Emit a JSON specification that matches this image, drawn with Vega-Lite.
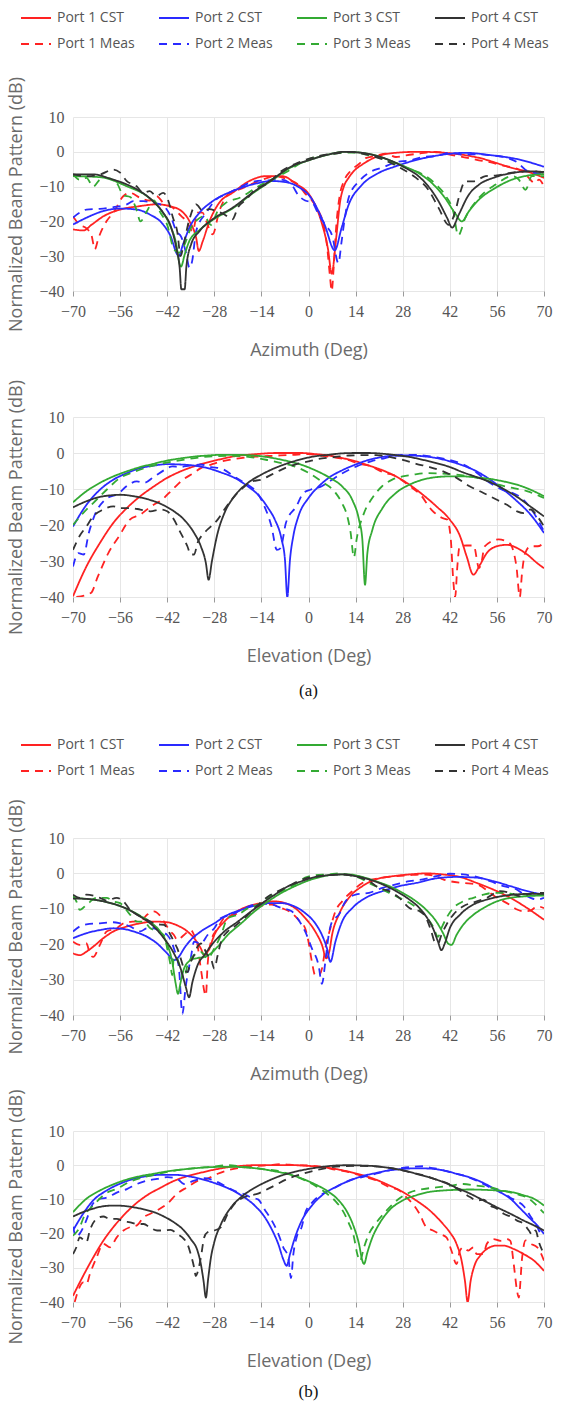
{
"$schema": "https://vega.github.io/schema/vega-lite/v6.json",
"background": "white",
"padding": {"left": 7, "top": 2, "right": 5, "bottom": 2},
"config": {
  "view": {"stroke": null},
  "axis": {"domain": false, "gridColor": "#e6e6e6", "gridWidth": 1, "labelFont": "Liberation Serif", "labelFontSize": 16, "labelColor": "#555555", "titleFont": "Open Sans", "titleFontSize": 18, "titleFontWeight": "normal", "titleColor": "#6b6b6b", "labelOverlap": false},
  "axisX": {"ticks": true, "tickColor": "#9a9a9a", "tickSize": 5, "labelPadding": 7, "titlePadding": 22, "labelFlush": false},
  "axisY": {"ticks": false, "labelPadding": 9, "titlePadding": 13},
  "legend": {"padding": 0, "labelFont": "Open Sans"}
},
"resolve": {"scale": {"color": "independent", "strokeDash": "independent", "x": "independent", "y": "independent"}},
"spacing": 30,
"vconcat": [
{
 "resolve": {"scale": {"color": "independent", "strokeDash": "independent", "x": "independent", "y": "independent"}},
 "spacing": 20,
 "vconcat": [
  {
   "width": 471, "height": 174,
   "data": {"name": "a1"},
   "mark": {"type": "line", "clip": true, "strokeWidth": 1.8, "interpolate": "monotone"},
   "encoding": {
    "x": {"field": "x", "type": "quantitative", "scale": {"domain": [-70, 70], "nice": false, "zero": false}, "axis": {"title": "Azimuth (Deg)", "labelFont": "Liberation Serif", "values": [-70,-56,-42,-28,-14,0,14,28,42,56,70]}},
    "y": {"field": "y", "type": "quantitative", "scale": {"domain": [-40, 10], "nice": false, "zero": false}, "axis": {"title": "Normalized Beam Pattern (dB)", "labelFont": "Liberation Serif", "values": [-40,-30,-20,-10,0,10]}},
    "color": {"field": "s", "type": "nominal", "scale": {"domain": ["1C","2C","3C","4C","1M","2M","3M","4M"], "range": ["#ff2222","#2a2aff","#33aa33","#333333","#ff2222","#2a2aff","#33aa33","#333333"]},
      "legend": {"title": null, "orient": "none", "legendX": -53, "legendY": -115, "direction": "horizontal", "columns": 4, "labelExpr": "'Port ' + substring(datum.label, 0, 1) + (substring(datum.label, 1, 2) == 'C' ? ' CST' : ' Meas')", "symbolType": "stroke", "symbolSize": 900, "symbolStrokeWidth": 2, "labelFont": "Open Sans", "labelFontSize": 14, "labelColor": "#555555", "columnPadding": 20, "rowPadding": 3, "labelOffset": 5}},
    "strokeDash": {"field": "s", "type": "nominal", "scale": {"domain": ["1C","2C","3C","4C","1M","2M","3M","4M"], "range": [[1,0],[1,0],[1,0],[1,0],[8,6],[8,6],[8,6],[8,6]]},
      "legend": {"title": null, "orient": "none", "legendX": -53, "legendY": -115, "direction": "horizontal", "columns": 4, "labelExpr": "'Port ' + substring(datum.label, 0, 1) + (substring(datum.label, 1, 2) == 'C' ? ' CST' : ' Meas')", "symbolType": "stroke", "symbolSize": 900, "symbolStrokeWidth": 2, "labelFont": "Open Sans", "labelFontSize": 14, "labelColor": "#555555", "columnPadding": 20, "rowPadding": 3, "labelOffset": 5}}
   }
  },
  {
   "width": 471, "height": 180,
   "data": {"name": "a2"},
   "title": {"text": "(a)", "orient": "bottom", "anchor": "middle", "frame": "group", "font": "Liberation Serif", "fontSize": 17, "fontWeight": "normal", "color": "#111111", "offset": 18},
   "mark": {"type": "line", "clip": true, "strokeWidth": 1.8, "interpolate": "monotone"},
   "encoding": {
    "x": {"field": "x", "type": "quantitative", "scale": {"domain": [-70, 70], "nice": false, "zero": false}, "axis": {"title": "Elevation (Deg)", "labelFont": "Liberation Serif", "values": [-70,-56,-42,-28,-14,0,14,28,42,56,70]}},
    "y": {"field": "y", "type": "quantitative", "scale": {"domain": [-40, 10], "nice": false, "zero": false}, "axis": {"title": "Normalized Beam Pattern (dB)", "labelFont": "Liberation Serif", "values": [-40,-30,-20,-10,0,10]}},
    "color": {"field": "s", "type": "nominal", "scale": {"domain": ["1C","2C","3C","4C","1M","2M","3M","4M"], "range": ["#ff2222","#2a2aff","#33aa33","#333333","#ff2222","#2a2aff","#33aa33","#333333"]}, "legend": null},
    "strokeDash": {"field": "s", "type": "nominal", "scale": {"domain": ["1C","2C","3C","4C","1M","2M","3M","4M"], "range": [[1,0],[1,0],[1,0],[1,0],[8,6],[8,6],[8,6],[8,6]]}, "legend": null}
   }
  }
 ]
},
{
 "resolve": {"scale": {"color": "independent", "strokeDash": "independent", "x": "independent", "y": "independent"}},
 "spacing": 6,
 "vconcat": [
  {
   "width": 471, "height": 177,
   "data": {"name": "b1"},
   "mark": {"type": "line", "clip": true, "strokeWidth": 1.8, "interpolate": "monotone"},
   "encoding": {
    "x": {"field": "x", "type": "quantitative", "scale": {"domain": [-70, 70], "nice": false, "zero": false}, "axis": {"title": "Azimuth (Deg)", "labelFont": "Liberation Serif", "values": [-70,-56,-42,-28,-14,0,14,28,42,56,70]}},
    "y": {"field": "y", "type": "quantitative", "scale": {"domain": [-40, 10], "nice": false, "zero": false}, "axis": {"title": "Normalized Beam Pattern (dB)", "labelFont": "Liberation Serif", "values": [-40,-30,-20,-10,0,10]}},
    "color": {"field": "s", "type": "nominal", "scale": {"domain": ["1C","2C","3C","4C","1M","2M","3M","4M"], "range": ["#ff2222","#2a2aff","#33aa33","#333333","#ff2222","#2a2aff","#33aa33","#333333"]},
      "legend": {"title": null, "orient": "none", "legendX": -53, "legendY": -109, "direction": "horizontal", "columns": 4, "labelExpr": "'Port ' + substring(datum.label, 0, 1) + (substring(datum.label, 1, 2) == 'C' ? ' CST' : ' Meas')", "symbolType": "stroke", "symbolSize": 900, "symbolStrokeWidth": 2, "labelFont": "Open Sans", "labelFontSize": 14, "labelColor": "#555555", "columnPadding": 20, "rowPadding": 3, "labelOffset": 5}},
    "strokeDash": {"field": "s", "type": "nominal", "scale": {"domain": ["1C","2C","3C","4C","1M","2M","3M","4M"], "range": [[1,0],[1,0],[1,0],[1,0],[8,6],[8,6],[8,6],[8,6]]},
      "legend": {"title": null, "orient": "none", "legendX": -53, "legendY": -109, "direction": "horizontal", "columns": 4, "labelExpr": "'Port ' + substring(datum.label, 0, 1) + (substring(datum.label, 1, 2) == 'C' ? ' CST' : ' Meas')", "symbolType": "stroke", "symbolSize": 900, "symbolStrokeWidth": 2, "labelFont": "Open Sans", "labelFontSize": 14, "labelColor": "#555555", "columnPadding": 20, "rowPadding": 3, "labelOffset": 5}}
   }
  },
  {
   "width": 471, "height": 171,
   "data": {"name": "b2"},
   "title": {"text": "(b)", "orient": "bottom", "anchor": "middle", "frame": "group", "font": "Liberation Serif", "fontSize": 17, "fontWeight": "normal", "color": "#111111", "offset": 14},
   "mark": {"type": "line", "clip": true, "strokeWidth": 1.8, "interpolate": "monotone"},
   "encoding": {
    "x": {"field": "x", "type": "quantitative", "scale": {"domain": [-70, 70], "nice": false, "zero": false}, "axis": {"title": "Elevation (Deg)", "labelFont": "Liberation Serif", "values": [-70,-56,-42,-28,-14,0,14,28,42,56,70]}},
    "y": {"field": "y", "type": "quantitative", "scale": {"domain": [-40, 10], "nice": false, "zero": false}, "axis": {"title": "Normalized Beam Pattern (dB)", "labelFont": "Liberation Serif", "values": [-40,-30,-20,-10,0,10]}},
    "color": {"field": "s", "type": "nominal", "scale": {"domain": ["1C","2C","3C","4C","1M","2M","3M","4M"], "range": ["#ff2222","#2a2aff","#33aa33","#333333","#ff2222","#2a2aff","#33aa33","#333333"]}, "legend": null},
    "strokeDash": {"field": "s", "type": "nominal", "scale": {"domain": ["1C","2C","3C","4C","1M","2M","3M","4M"], "range": [[1,0],[1,0],[1,0],[1,0],[8,6],[8,6],[8,6],[8,6]]}, "legend": null}
   }
  }
 ]
}
],
"datasets": {
"a1": [
{"s":"1C","x":-70,"y":-22.3},{"s":"1C","x":-66.9,"y":-22.6},{"s":"1C","x":-64.4,"y":-20.9},{"s":"1C","x":-60.9,"y":-18.5},{"s":"1C","x":-56,"y":-16.6},{"s":"1C","x":-50.1,"y":-15.6},{"s":"1C","x":-45.2,"y":-15.1},{"s":"1C","x":-41.3,"y":-15.6},{"s":"1C","x":-37.8,"y":-17},{"s":"1C","x":-35.4,"y":-19.9},{"s":"1C","x":-33.4,"y":-24.7},{"s":"1C","x":-32.6,"y":-28.5},{"s":"1C","x":-31.4,"y":-25.6},{"s":"1C","x":-29.4,"y":-19.9},{"s":"1C","x":-26.5,"y":-14.6},{"s":"1C","x":-22.6,"y":-11.8},{"s":"1C","x":-17.6,"y":-8.4},{"s":"1C","x":-12.7,"y":-7},{"s":"1C","x":-7.8,"y":-7},{"s":"1C","x":-4,"y":-9},{"s":"1C","x":1,"y":-13.5},{"s":"1C","x":3.8,"y":-20},{"s":"1C","x":5.8,"y":-28},{"s":"1C","x":6.9,"y":-35},{"s":"1C","x":8.2,"y":-25},{"s":"1C","x":9.4,"y":-14.3},{"s":"1C","x":10.5,"y":-10},{"s":"1C","x":11.9,"y":-7.5},{"s":"1C","x":13.5,"y":-5.5},{"s":"1C","x":15.9,"y":-3.7},{"s":"1C","x":20.8,"y":-1.2},{"s":"1C","x":25.8,"y":-0.3},{"s":"1C","x":32.7,"y":0},{"s":"1C","x":40.6,"y":-0.3},{"s":"1C","x":50.5,"y":-1.7},{"s":"1C","x":60.4,"y":-4.6},{"s":"1C","x":66.4,"y":-6.1},{"s":"1C","x":70,"y":-7.5},
{"s":"1M","x":-70,"y":-18.6},{"s":"1M","x":-68,"y":-21},{"s":"1M","x":-66,"y":-22},{"s":"1M","x":-64.5,"y":-24},{"s":"1M","x":-63.5,"y":-28},{"s":"1M","x":-62.5,"y":-25},{"s":"1M","x":-60,"y":-19.9},{"s":"1M","x":-58,"y":-17.5},{"s":"1M","x":-55,"y":-12.7},{"s":"1M","x":-53,"y":-11.8},{"s":"1M","x":-50.1,"y":-13.2},{"s":"1M","x":-47.2,"y":-14},{"s":"1M","x":-45.2,"y":-12.7},{"s":"1M","x":-43.2,"y":-14.6},{"s":"1M","x":-40.3,"y":-16.1},{"s":"1M","x":-37.8,"y":-18.5},{"s":"1M","x":-36.3,"y":-19.9},{"s":"1M","x":-34.4,"y":-22.8},{"s":"1M","x":-33,"y":-17.5},{"s":"1M","x":-31.5,"y":-17.5},{"s":"1M","x":-30.4,"y":-19.9},{"s":"1M","x":-28.5,"y":-23.7},{"s":"1M","x":-26.5,"y":-17},{"s":"1M","x":-23.5,"y":-11.8},{"s":"1M","x":-20.6,"y":-10.8},{"s":"1M","x":-14.7,"y":-8.4},{"s":"1M","x":-9.8,"y":-7},{"s":"1M","x":-6,"y":-8},{"s":"1M","x":-3,"y":-9.5},{"s":"1M","x":-1,"y":-12},{"s":"1M","x":1,"y":-14},{"s":"1M","x":3,"y":-17},{"s":"1M","x":4.5,"y":-21},{"s":"1M","x":5.5,"y":-27},{"s":"1M","x":6.4,"y":-36},{"s":"1M","x":6.9,"y":-40},{"s":"1M","x":7.5,"y":-33},{"s":"1M","x":8.2,"y":-22},{"s":"1M","x":9.2,"y":-13},{"s":"1M","x":10.5,"y":-8.5},{"s":"1M","x":12.5,"y":-5.5},{"s":"1M","x":15,"y":-3.5},{"s":"1M","x":17,"y":-1.8},{"s":"1M","x":20,"y":-1.2},{"s":"1M","x":23,"y":-0.5},{"s":"1M","x":26,"y":-1.5},{"s":"1M","x":29,"y":-1},{"s":"1M","x":33,"y":-0.5},{"s":"1M","x":38,"y":0},{"s":"1M","x":42,"y":-0.8},{"s":"1M","x":46,"y":-1.5},{"s":"1M","x":50,"y":-2.3},{"s":"1M","x":54,"y":-3},{"s":"1M","x":58,"y":-4},{"s":"1M","x":62.5,"y":-5.1},{"s":"1M","x":65,"y":-7},{"s":"1M","x":67.3,"y":-9},{"s":"1M","x":68.5,"y":-8},{"s":"1M","x":70,"y":-10},
{"s":"2C","x":-70,"y":-20.9},{"s":"2C","x":-65.9,"y":-18.9},{"s":"2C","x":-60.9,"y":-17},{"s":"2C","x":-56,"y":-16.3},{"s":"2C","x":-51.1,"y":-16.6},{"s":"2C","x":-47.2,"y":-18},{"s":"2C","x":-43.2,"y":-20.9},{"s":"2C","x":-40.8,"y":-24.7},{"s":"2C","x":-39.3,"y":-29},{"s":"2C","x":-38.6,"y":-30},{"s":"2C","x":-37.3,"y":-26.6},{"s":"2C","x":-35.4,"y":-21.8},{"s":"2C","x":-32.4,"y":-17.5},{"s":"2C","x":-28.5,"y":-14.2},{"s":"2C","x":-22.6,"y":-11.3},{"s":"2C","x":-16.7,"y":-9.4},{"s":"2C","x":-10.7,"y":-8.4},{"s":"2C","x":-5.8,"y":-8.9},{"s":"2C","x":-3.2,"y":-10},{"s":"2C","x":0.8,"y":-13.3},{"s":"2C","x":4.8,"y":-21},{"s":"2C","x":7.8,"y":-28.3},{"s":"2C","x":9.8,"y":-22},{"s":"2C","x":11.9,"y":-15.3},{"s":"2C","x":15.9,"y":-9.5},{"s":"2C","x":20.8,"y":-6.1},{"s":"2C","x":25.8,"y":-4.2},{"s":"2C","x":30.7,"y":-2.7},{"s":"2C","x":38.7,"y":-1},{"s":"2C","x":46.6,"y":-0.3},{"s":"2C","x":54.5,"y":-1},{"s":"2C","x":62.5,"y":-2.2},{"s":"2C","x":70,"y":-4.3},
{"s":"2M","x":-70,"y":-18.9},{"s":"2M","x":-68,"y":-17.5},{"s":"2M","x":-66,"y":-16.6},{"s":"2M","x":-62,"y":-16.4},{"s":"2M","x":-58,"y":-15.9},{"s":"2M","x":-54,"y":-15.1},{"s":"2M","x":-52.1,"y":-14.2},{"s":"2M","x":-49.1,"y":-14.2},{"s":"2M","x":-46.2,"y":-14.6},{"s":"2M","x":-43.2,"y":-15.5},{"s":"2M","x":-40.8,"y":-18.9},{"s":"2M","x":-39.3,"y":-22.8},{"s":"2M","x":-37.8,"y":-24.5},{"s":"2M","x":-36.3,"y":-29.5},{"s":"2M","x":-35.4,"y":-33.3},{"s":"2M","x":-34.6,"y":-31.5},{"s":"2M","x":-33.4,"y":-22.8},{"s":"2M","x":-30.4,"y":-17.5},{"s":"2M","x":-27.5,"y":-13.7},{"s":"2M","x":-24.5,"y":-12.2},{"s":"2M","x":-20.6,"y":-10.3},{"s":"2M","x":-16,"y":-8.5},{"s":"2M","x":-12,"y":-8.2},{"s":"2M","x":-8,"y":-8},{"s":"2M","x":-5,"y":-9.5},{"s":"2M","x":-3,"y":-12.5},{"s":"2M","x":-1,"y":-14},{"s":"2M","x":1,"y":-14.5},{"s":"2M","x":3,"y":-18},{"s":"2M","x":5,"y":-21},{"s":"2M","x":7,"y":-24},{"s":"2M","x":8.9,"y":-32},{"s":"2M","x":9.8,"y":-26},{"s":"2M","x":10.8,"y":-19},{"s":"2M","x":12,"y":-13},{"s":"2M","x":15,"y":-8.5},{"s":"2M","x":18,"y":-6},{"s":"2M","x":22,"y":-4.5},{"s":"2M","x":26,"y":-3},{"s":"2M","x":30,"y":-2.5},{"s":"2M","x":34,"y":-1.5},{"s":"2M","x":38,"y":-1.2},{"s":"2M","x":42,"y":-0.3},{"s":"2M","x":46,"y":-0.8},{"s":"2M","x":50,"y":-0.7},{"s":"2M","x":54,"y":-1},{"s":"2M","x":58,"y":-1.5},{"s":"2M","x":62,"y":-3},{"s":"2M","x":65,"y":-5.5},{"s":"2M","x":67,"y":-6},{"s":"2M","x":70,"y":-6.5},
{"s":"3C","x":-70,"y":-7},{"s":"3C","x":-61.9,"y":-7.3},{"s":"3C","x":-54,"y":-9.9},{"s":"3C","x":-48.1,"y":-12.7},{"s":"3C","x":-44.2,"y":-16.3},{"s":"3C","x":-41.3,"y":-20.9},{"s":"3C","x":-39.3,"y":-26.6},{"s":"3C","x":-38.3,"y":-32.3},{"s":"3C","x":-37.9,"y":-33},{"s":"3C","x":-36.8,"y":-29.5},{"s":"3C","x":-35.4,"y":-25.6},{"s":"3C","x":-32.4,"y":-22.5},{"s":"3C","x":-28.5,"y":-19.6},{"s":"3C","x":-22.6,"y":-16.3},{"s":"3C","x":-16.7,"y":-12},{"s":"3C","x":-10.7,"y":-8.1},{"s":"3C","x":-5.8,"y":-4.8},{"s":"3C","x":0.8,"y":-2.2},{"s":"3C","x":5.8,"y":-0.8},{"s":"3C","x":10.8,"y":0},{"s":"3C","x":15.9,"y":-0.3},{"s":"3C","x":20.8,"y":-1.3},{"s":"3C","x":24.8,"y":-2.7},{"s":"3C","x":28.8,"y":-4.3},{"s":"3C","x":32.7,"y":-6.1},{"s":"3C","x":36.7,"y":-9},{"s":"3C","x":40.6,"y":-13.3},{"s":"3C","x":43.6,"y":-17.7},{"s":"3C","x":45.6,"y":-20},{"s":"3C","x":47.6,"y":-17.2},{"s":"3C","x":50.6,"y":-13.8},{"s":"3C","x":55.5,"y":-10.4},{"s":"3C","x":60.5,"y":-8},{"s":"3C","x":65.4,"y":-6.8},{"s":"3C","x":70,"y":-6.4},
{"s":"3M","x":-70,"y":-6.5},{"s":"3M","x":-68,"y":-8},{"s":"3M","x":-66,"y":-7.5},{"s":"3M","x":-64,"y":-10},{"s":"3M","x":-62,"y":-8},{"s":"3M","x":-60,"y":-7.5},{"s":"3M","x":-57,"y":-9},{"s":"3M","x":-55,"y":-12.5},{"s":"3M","x":-53,"y":-13},{"s":"3M","x":-51,"y":-17},{"s":"3M","x":-50,"y":-20},{"s":"3M","x":-48,"y":-17},{"s":"3M","x":-46,"y":-14},{"s":"3M","x":-44,"y":-17.5},{"s":"3M","x":-42,"y":-21},{"s":"3M","x":-40,"y":-28},{"s":"3M","x":-38.5,"y":-29},{"s":"3M","x":-37,"y":-27},{"s":"3M","x":-35,"y":-22},{"s":"3M","x":-33,"y":-19.5},{"s":"3M","x":-31,"y":-18.5},{"s":"3M","x":-29,"y":-21},{"s":"3M","x":-27,"y":-17},{"s":"3M","x":-25,"y":-15},{"s":"3M","x":-20,"y":-13},{"s":"3M","x":-15,"y":-10},{"s":"3M","x":-10,"y":-7.5},{"s":"3M","x":-6,"y":-5.5},{"s":"3M","x":-2,"y":-3},{"s":"3M","x":2,"y":-1.5},{"s":"3M","x":6,"y":-0.8},{"s":"3M","x":10,"y":-0.3},{"s":"3M","x":14,"y":-0.2},{"s":"3M","x":18,"y":-1},{"s":"3M","x":22,"y":-2},{"s":"3M","x":26,"y":-3.5},{"s":"3M","x":30,"y":-5},{"s":"3M","x":34,"y":-6.5},{"s":"3M","x":38,"y":-9.5},{"s":"3M","x":41,"y":-13},{"s":"3M","x":43,"y":-17},{"s":"3M","x":44.5,"y":-24},{"s":"3M","x":46.6,"y":-19},{"s":"3M","x":50.6,"y":-13.3},{"s":"3M","x":55.5,"y":-9.5},{"s":"3M","x":60.5,"y":-7},{"s":"3M","x":62.5,"y":-8},{"s":"3M","x":64.5,"y":-10.9},{"s":"3M","x":66.4,"y":-7},{"s":"3M","x":70,"y":-7},
{"s":"4C","x":-70,"y":-6.5},{"s":"4C","x":-63.9,"y":-6.5},{"s":"4C","x":-59,"y":-7.7},{"s":"4C","x":-54,"y":-9.4},{"s":"4C","x":-50.1,"y":-11.3},{"s":"4C","x":-46.2,"y":-14.2},{"s":"4C","x":-43.2,"y":-17.5},{"s":"4C","x":-40.8,"y":-21.8},{"s":"4C","x":-39.3,"y":-27.6},{"s":"4C","x":-38.3,"y":-33.3},{"s":"4C","x":-37.8,"y":-39.5},{"s":"4C","x":-36.8,"y":-39.5},{"s":"4C","x":-36.3,"y":-33},{"s":"4C","x":-34.9,"y":-26.6},{"s":"4C","x":-32.4,"y":-22.8},{"s":"4C","x":-28.5,"y":-19.4},{"s":"4C","x":-22.6,"y":-16.1},{"s":"4C","x":-16.7,"y":-11.8},{"s":"4C","x":-10.7,"y":-7.9},{"s":"4C","x":-5.8,"y":-4.6},{"s":"4C","x":0.8,"y":-2.2},{"s":"4C","x":5.8,"y":-0.8},{"s":"4C","x":10.8,"y":0},{"s":"4C","x":15.9,"y":-0.3},{"s":"4C","x":20.8,"y":-1.3},{"s":"4C","x":24.8,"y":-2.7},{"s":"4C","x":28.8,"y":-4.6},{"s":"4C","x":32.7,"y":-7},{"s":"4C","x":35.7,"y":-10},{"s":"4C","x":38.7,"y":-14.3},{"s":"4C","x":41.2,"y":-19},{"s":"4C","x":42.7,"y":-21.8},{"s":"4C","x":44.6,"y":-18.2},{"s":"4C","x":47.6,"y":-12.4},{"s":"4C","x":50.6,"y":-9.5},{"s":"4C","x":55.5,"y":-7.3},{"s":"4C","x":60.5,"y":-6.1},{"s":"4C","x":65.4,"y":-5.6},{"s":"4C","x":70,"y":-5.8},
{"s":"4M","x":-70,"y":-6.5},{"s":"4M","x":-66,"y":-7},{"s":"4M","x":-61.9,"y":-6.5},{"s":"4M","x":-58,"y":-5.1},{"s":"4M","x":-56,"y":-6},{"s":"4M","x":-54,"y":-8.4},{"s":"4M","x":-51.1,"y":-9.9},{"s":"4M","x":-49.1,"y":-11.8},{"s":"4M","x":-47.2,"y":-11.3},{"s":"4M","x":-45.2,"y":-12.7},{"s":"4M","x":-43.2,"y":-11.8},{"s":"4M","x":-41.7,"y":-14},{"s":"4M","x":-40.3,"y":-18.9},{"s":"4M","x":-39,"y":-23},{"s":"4M","x":-38,"y":-30},{"s":"4M","x":-37.2,"y":-27},{"s":"4M","x":-35.4,"y":-19.4},{"s":"4M","x":-33.4,"y":-15.1},{"s":"4M","x":-31.4,"y":-17},{"s":"4M","x":-29.5,"y":-16.5},{"s":"4M","x":-27.5,"y":-17},{"s":"4M","x":-25,"y":-18},{"s":"4M","x":-22.6,"y":-19.4},{"s":"4M","x":-21,"y":-16},{"s":"4M","x":-18.5,"y":-13.7},{"s":"4M","x":-16,"y":-11},{"s":"4M","x":-12,"y":-9},{"s":"4M","x":-8,"y":-5.5},{"s":"4M","x":-4,"y":-3.5},{"s":"4M","x":0,"y":-2},{"s":"4M","x":4,"y":-1},{"s":"4M","x":8,"y":-0.5},{"s":"4M","x":12,"y":0},{"s":"4M","x":16,"y":-0.5},{"s":"4M","x":20,"y":-1.5},{"s":"4M","x":24,"y":-3},{"s":"4M","x":28,"y":-5},{"s":"4M","x":32,"y":-7.5},{"s":"4M","x":35.7,"y":-11},{"s":"4M","x":38.7,"y":-16.2},{"s":"4M","x":41.7,"y":-21},{"s":"4M","x":43.6,"y":-17.2},{"s":"4M","x":45,"y":-12},{"s":"4M","x":46.6,"y":-8.5},{"s":"4M","x":49,"y":-8.5},{"s":"4M","x":52.6,"y":-7},{"s":"4M","x":56,"y":-6.8},{"s":"4M","x":60.5,"y":-6},{"s":"4M","x":66.4,"y":-5.6},{"s":"4M","x":70,"y":-6}
],
"a2": [
{"s":"1C","x":-70,"y":-39.8},{"s":"1C","x":-66,"y":-31.5},{"s":"1C","x":-62,"y":-25},{"s":"1C","x":-58,"y":-19.4},{"s":"1C","x":-54,"y":-15.3},{"s":"1C","x":-50,"y":-12},{"s":"1C","x":-46,"y":-9.3},{"s":"1C","x":-42,"y":-6.9},{"s":"1C","x":-38,"y":-5.1},{"s":"1C","x":-34,"y":-3.7},{"s":"1C","x":-30,"y":-2.6},{"s":"1C","x":-26,"y":-1.7},{"s":"1C","x":-22,"y":-0.9},{"s":"1C","x":-18,"y":-0.5},{"s":"1C","x":-14,"y":-0.2},{"s":"1C","x":-10,"y":0},{"s":"1C","x":-6,"y":0},{"s":"1C","x":-2,"y":0},{"s":"1C","x":2,"y":-0.3},{"s":"1C","x":6,"y":-0.7},{"s":"1C","x":10,"y":-1.4},{"s":"1C","x":14,"y":-2.3},{"s":"1C","x":18,"y":-3.5},{"s":"1C","x":22,"y":-4.8},{"s":"1C","x":26,"y":-6.5},{"s":"1C","x":30,"y":-8.8},{"s":"1C","x":34,"y":-11.6},{"s":"1C","x":38,"y":-14.8},{"s":"1C","x":42,"y":-18.5},{"s":"1C","x":45,"y":-23},{"s":"1C","x":47,"y":-28.7},{"s":"1C","x":49,"y":-33.8},{"s":"1C","x":51,"y":-31},{"s":"1C","x":53,"y":-27.8},{"s":"1C","x":56,"y":-25.9},{"s":"1C","x":59,"y":-25.5},{"s":"1C","x":62,"y":-26.4},{"s":"1C","x":65,"y":-28.2},{"s":"1C","x":68,"y":-30.6},{"s":"1C","x":70,"y":-32},
{"s":"1M","x":-69,"y":-40},{"s":"1M","x":-64.7,"y":-38.9},{"s":"1M","x":-62.6,"y":-34.3},{"s":"1M","x":-59.5,"y":-27.8},{"s":"1M","x":-56.3,"y":-23.1},{"s":"1M","x":-53.1,"y":-18.5},{"s":"1M","x":-50,"y":-17.1},{"s":"1M","x":-46.8,"y":-14.8},{"s":"1M","x":-43.6,"y":-13},{"s":"1M","x":-40.5,"y":-10.2},{"s":"1M","x":-37.3,"y":-7.4},{"s":"1M","x":-34.2,"y":-5.6},{"s":"1M","x":-32,"y":-4.2},{"s":"1M","x":-28.9,"y":-3.2},{"s":"1M","x":-25.7,"y":-2.3},{"s":"1M","x":-21.5,"y":-1.6},{"s":"1M","x":-17.3,"y":-1.1},{"s":"1M","x":-13.1,"y":-0.9},{"s":"1M","x":-8.9,"y":-0.7},{"s":"1M","x":-4.6,"y":-0.5},{"s":"1M","x":0,"y":-0.3},{"s":"1M","x":4,"y":-0.8},{"s":"1M","x":8,"y":-1.3},{"s":"1M","x":12,"y":-2},{"s":"1M","x":14.3,"y":-2.8},{"s":"1M","x":18.6,"y":-3.7},{"s":"1M","x":22.8,"y":-5.6},{"s":"1M","x":24.9,"y":-6},{"s":"1M","x":30.2,"y":-9.3},{"s":"1M","x":33.3,"y":-11.6},{"s":"1M","x":36.5,"y":-15.7},{"s":"1M","x":39.6,"y":-18},{"s":"1M","x":41.2,"y":-18.5},{"s":"1M","x":42.3,"y":-24},{"s":"1M","x":43,"y":-35},{"s":"1M","x":43.6,"y":-40},{"s":"1M","x":44.2,"y":-32},{"s":"1M","x":44.9,"y":-26},{"s":"1M","x":47,"y":-25.7},{"s":"1M","x":49.1,"y":-25.7},{"s":"1M","x":50.7,"y":-32},{"s":"1M","x":51.5,"y":-30},{"s":"1M","x":52.3,"y":-26},{"s":"1M","x":56.5,"y":-24},{"s":"1M","x":59.7,"y":-25},{"s":"1M","x":61.8,"y":-31.5},{"s":"1M","x":62.8,"y":-40},{"s":"1M","x":63.5,"y":-33},{"s":"1M","x":64.4,"y":-27.8},{"s":"1M","x":66,"y":-25.9},{"s":"1M","x":68.1,"y":-25.9},{"s":"1M","x":70,"y":-25},
{"s":"2C","x":-70,"y":-20.4},{"s":"2C","x":-66,"y":-14.4},{"s":"2C","x":-62,"y":-10.2},{"s":"2C","x":-58,"y":-7.4},{"s":"2C","x":-54,"y":-5.6},{"s":"2C","x":-50,"y":-4.2},{"s":"2C","x":-46,"y":-3.5},{"s":"2C","x":-42,"y":-3.1},{"s":"2C","x":-38,"y":-3.2},{"s":"2C","x":-34,"y":-3.5},{"s":"2C","x":-30,"y":-4.2},{"s":"2C","x":-26,"y":-5.4},{"s":"2C","x":-22,"y":-6.9},{"s":"2C","x":-18,"y":-9.3},{"s":"2C","x":-15,"y":-11.6},{"s":"2C","x":-12,"y":-15.3},{"s":"2C","x":-10,"y":-18.5},{"s":"2C","x":-8,"y":-24},{"s":"2C","x":-7,"y":-29.6},{"s":"2C","x":-6.3,"y":-40},{"s":"2C","x":-5.5,"y":-29.6},{"s":"2C","x":-4.5,"y":-23},{"s":"2C","x":-3,"y":-17.6},{"s":"2C","x":0,"y":-12.5},{"s":"2C","x":3,"y":-9.3},{"s":"2C","x":6,"y":-6.9},{"s":"2C","x":10,"y":-4.8},{"s":"2C","x":14,"y":-3.2},{"s":"2C","x":18,"y":-1.9},{"s":"2C","x":22,"y":-1.1},{"s":"2C","x":26,"y":-0.7},{"s":"2C","x":30,"y":-0.7},{"s":"2C","x":34,"y":-0.9},{"s":"2C","x":38,"y":-1.4},{"s":"2C","x":42,"y":-2.3},{"s":"2C","x":46,"y":-3.5},{"s":"2C","x":50,"y":-5.1},{"s":"2C","x":54,"y":-7.4},{"s":"2C","x":58,"y":-10.2},{"s":"2C","x":62,"y":-13.4},{"s":"2C","x":66,"y":-17.1},{"s":"2C","x":70,"y":-22.2},
{"s":"2M","x":-70,"y":-31.5},{"s":"2M","x":-68.4,"y":-27.8},{"s":"2M","x":-66.8,"y":-28.2},{"s":"2M","x":-65.3,"y":-22.2},{"s":"2M","x":-63.7,"y":-17.6},{"s":"2M","x":-60.5,"y":-13},{"s":"2M","x":-56.3,"y":-11.1},{"s":"2M","x":-54.2,"y":-9.3},{"s":"2M","x":-51,"y":-7.9},{"s":"2M","x":-48.9,"y":-8.3},{"s":"2M","x":-45.8,"y":-6.5},{"s":"2M","x":-42.6,"y":-4.6},{"s":"2M","x":-40.5,"y":-3.7},{"s":"2M","x":-38.4,"y":-3.9},{"s":"2M","x":-35.2,"y":-3.5},{"s":"2M","x":-32,"y":-3.2},{"s":"2M","x":-28.9,"y":-3.9},{"s":"2M","x":-25.7,"y":-4.4},{"s":"2M","x":-21.5,"y":-6.9},{"s":"2M","x":-17.3,"y":-9.3},{"s":"2M","x":-15.2,"y":-11.1},{"s":"2M","x":-13.1,"y":-14.8},{"s":"2M","x":-11,"y":-20.4},{"s":"2M","x":-9.4,"y":-26.9},{"s":"2M","x":-8.3,"y":-26.4},{"s":"2M","x":-6.7,"y":-19.4},{"s":"2M","x":-3.6,"y":-14.8},{"s":"2M","x":-1.5,"y":-11.1},{"s":"2M","x":0.6,"y":-10.2},{"s":"2M","x":3.8,"y":-9.3},{"s":"2M","x":7,"y":-7.4},{"s":"2M","x":10.1,"y":-5.6},{"s":"2M","x":14.3,"y":-3.7},{"s":"2M","x":18.6,"y":-2.3},{"s":"2M","x":22.8,"y":-1.4},{"s":"2M","x":25.9,"y":-0.7},{"s":"2M","x":30.1,"y":-0.5},{"s":"2M","x":33.3,"y":-0.6},{"s":"2M","x":37.5,"y":-1.1},{"s":"2M","x":41.7,"y":-1.9},{"s":"2M","x":46,"y":-3.2},{"s":"2M","x":50.2,"y":-5.6},{"s":"2M","x":53.3,"y":-7.9},{"s":"2M","x":56.5,"y":-9.7},{"s":"2M","x":58.6,"y":-10.6},{"s":"2M","x":60.7,"y":-11.1},{"s":"2M","x":63.9,"y":-13},{"s":"2M","x":67,"y":-16.7},{"s":"2M","x":70,"y":-21.8},
{"s":"3C","x":-70,"y":-13.7},{"s":"3C","x":-66,"y":-10.6},{"s":"3C","x":-62,"y":-8.3},{"s":"3C","x":-58,"y":-6.5},{"s":"3C","x":-54,"y":-5.1},{"s":"3C","x":-50,"y":-3.9},{"s":"3C","x":-46,"y":-3},{"s":"3C","x":-42,"y":-2.1},{"s":"3C","x":-38,"y":-1.5},{"s":"3C","x":-34,"y":-1},{"s":"3C","x":-30,"y":-0.7},{"s":"3C","x":-26,"y":-0.5},{"s":"3C","x":-22,"y":-0.5},{"s":"3C","x":-18,"y":-0.6},{"s":"3C","x":-14,"y":-0.9},{"s":"3C","x":-10,"y":-1.5},{"s":"3C","x":-6,"y":-2.3},{"s":"3C","x":-2,"y":-3.3},{"s":"3C","x":2,"y":-4.8},{"s":"3C","x":6,"y":-6.7},{"s":"3C","x":10,"y":-9.3},{"s":"3C","x":13,"y":-13},{"s":"3C","x":15,"y":-18.5},{"s":"3C","x":16,"y":-24},{"s":"3C","x":16.8,"y":-36.6},{"s":"3C","x":17.5,"y":-27.8},{"s":"3C","x":19,"y":-21.3},{"s":"3C","x":22,"y":-15.3},{"s":"3C","x":26,"y":-11.1},{"s":"3C","x":30,"y":-8.8},{"s":"3C","x":34,"y":-7.4},{"s":"3C","x":38,"y":-6.7},{"s":"3C","x":42,"y":-6.5},{"s":"3C","x":46,"y":-6.5},{"s":"3C","x":50,"y":-6.8},{"s":"3C","x":54,"y":-7.2},{"s":"3C","x":58,"y":-7.9},{"s":"3C","x":62,"y":-8.8},{"s":"3C","x":66,"y":-10.2},{"s":"3C","x":70,"y":-12},
{"s":"3M","x":-70,"y":-20},{"s":"3M","x":-67,"y":-16.7},{"s":"3M","x":-64,"y":-13.9},{"s":"3M","x":-60,"y":-10.2},{"s":"3M","x":-56,"y":-6.9},{"s":"3M","x":-52,"y":-5.3},{"s":"3M","x":-48,"y":-4},{"s":"3M","x":-44,"y":-3},{"s":"3M","x":-40,"y":-2.3},{"s":"3M","x":-36,"y":-1.7},{"s":"3M","x":-32,"y":-1.2},{"s":"3M","x":-28,"y":-0.9},{"s":"3M","x":-24,"y":-0.8},{"s":"3M","x":-20,"y":-0.9},{"s":"3M","x":-16,"y":-1.3},{"s":"3M","x":-12,"y":-2},{"s":"3M","x":-8,"y":-2.8},{"s":"3M","x":-4,"y":-3.8},{"s":"3M","x":0,"y":-5.5},{"s":"3M","x":4,"y":-8},{"s":"3M","x":8,"y":-11},{"s":"3M","x":10,"y":-14},{"s":"3M","x":11.5,"y":-17.5},{"s":"3M","x":12.5,"y":-22},{"s":"3M","x":13.5,"y":-29},{"s":"3M","x":14.3,"y":-24},{"s":"3M","x":16.5,"y":-16.7},{"s":"3M","x":18.6,"y":-13},{"s":"3M","x":21.8,"y":-9.3},{"s":"3M","x":24.9,"y":-7.4},{"s":"3M","x":28,"y":-6.5},{"s":"3M","x":31.2,"y":-6},{"s":"3M","x":35.4,"y":-5.6},{"s":"3M","x":39.6,"y":-5.7},{"s":"3M","x":43.8,"y":-6},{"s":"3M","x":48,"y":-6.5},{"s":"3M","x":52.3,"y":-7.4},{"s":"3M","x":56.5,"y":-8.8},{"s":"3M","x":60.7,"y":-9.7},{"s":"3M","x":64.9,"y":-10.6},{"s":"3M","x":70,"y":-12.5},
{"s":"4C","x":-70,"y":-15.1},{"s":"4C","x":-66,"y":-13.4},{"s":"4C","x":-62,"y":-12.2},{"s":"4C","x":-58,"y":-11.7},{"s":"4C","x":-56,"y":-11.6},{"s":"4C","x":-52,"y":-12},{"s":"4C","x":-48,"y":-12.8},{"s":"4C","x":-44,"y":-14.1},{"s":"4C","x":-40,"y":-16.2},{"s":"4C","x":-37,"y":-18.5},{"s":"4C","x":-34,"y":-22.2},{"s":"4C","x":-32,"y":-25.9},{"s":"4C","x":-30.5,"y":-30.6},{"s":"4C","x":-29.7,"y":-35.2},{"s":"4C","x":-28.7,"y":-30},{"s":"4C","x":-27,"y":-22.2},{"s":"4C","x":-25,"y":-16.7},{"s":"4C","x":-22,"y":-12},{"s":"4C","x":-18,"y":-8.3},{"s":"4C","x":-14,"y":-6},{"s":"4C","x":-10,"y":-4.2},{"s":"4C","x":-6,"y":-2.8},{"s":"4C","x":-2,"y":-1.7},{"s":"4C","x":2,"y":-0.9},{"s":"4C","x":6,"y":-0.5},{"s":"4C","x":10,"y":-0.1},{"s":"4C","x":14,"y":0},{"s":"4C","x":18,"y":0},{"s":"4C","x":22,"y":-0.2},{"s":"4C","x":26,"y":-0.6},{"s":"4C","x":30,"y":-1.1},{"s":"4C","x":34,"y":-1.9},{"s":"4C","x":38,"y":-2.8},{"s":"4C","x":42,"y":-3.9},{"s":"4C","x":46,"y":-5.4},{"s":"4C","x":50,"y":-6.7},{"s":"4C","x":54,"y":-8.1},{"s":"4C","x":58,"y":-10},{"s":"4C","x":62,"y":-12.2},{"s":"4C","x":66,"y":-14.9},{"s":"4C","x":70,"y":-17.6},
{"s":"4M","x":-70,"y":-26.9},{"s":"4M","x":-68,"y":-23},{"s":"4M","x":-66,"y":-20.4},{"s":"4M","x":-64,"y":-17.6},{"s":"4M","x":-61,"y":-15.7},{"s":"4M","x":-58,"y":-14.8},{"s":"4M","x":-56,"y":-15.3},{"s":"4M","x":-53,"y":-15.3},{"s":"4M","x":-50,"y":-15.7},{"s":"4M","x":-47,"y":-16.2},{"s":"4M","x":-44,"y":-15.7},{"s":"4M","x":-42,"y":-16.2},{"s":"4M","x":-40,"y":-18.5},{"s":"4M","x":-38,"y":-22.2},{"s":"4M","x":-36,"y":-25.9},{"s":"4M","x":-35,"y":-28.2},{"s":"4M","x":-34,"y":-28.2},{"s":"4M","x":-33,"y":-25},{"s":"4M","x":-31,"y":-22.2},{"s":"4M","x":-29,"y":-20.4},{"s":"4M","x":-27,"y":-18.5},{"s":"4M","x":-25,"y":-15.7},{"s":"4M","x":-22,"y":-12},{"s":"4M","x":-19,"y":-9.3},{"s":"4M","x":-17,"y":-7.9},{"s":"4M","x":-14,"y":-7.4},{"s":"4M","x":-11,"y":-6},{"s":"4M","x":-8,"y":-4.6},{"s":"4M","x":-4,"y":-3.2},{"s":"4M","x":0,"y":-2.3},{"s":"4M","x":4,"y":-1.5},{"s":"4M","x":8,"y":-1.1},{"s":"4M","x":12,"y":-0.7},{"s":"4M","x":16,"y":-0.6},{"s":"4M","x":20,"y":-0.6},{"s":"4M","x":24,"y":-1.1},{"s":"4M","x":28,"y":-1.9},{"s":"4M","x":32,"y":-3},{"s":"4M","x":36,"y":-3.9},{"s":"4M","x":40,"y":-5.1},{"s":"4M","x":44,"y":-6.9},{"s":"4M","x":48,"y":-9.3},{"s":"4M","x":52,"y":-11.1},{"s":"4M","x":56,"y":-13},{"s":"4M","x":59,"y":-14.4},{"s":"4M","x":62,"y":-16.2},{"s":"4M","x":64,"y":-16.7},{"s":"4M","x":66,"y":-15.7},{"s":"4M","x":68,"y":-17.6},{"s":"4M","x":70,"y":-20.4}
],
"b1": [
{"s":"1C","x":-70,"y":-22.6},{"s":"1C","x":-68,"y":-23.1},{"s":"1C","x":-66,"y":-22.1},{"s":"1C","x":-64,"y":-20.7},{"s":"1C","x":-61,"y":-18.3},{"s":"1C","x":-58,"y":-16.4},{"s":"1C","x":-54,"y":-15},{"s":"1C","x":-50,"y":-14.1},{"s":"1C","x":-46,"y":-13.6},{"s":"1C","x":-42,"y":-13.8},{"s":"1C","x":-39,"y":-14.7},{"s":"1C","x":-36,"y":-16.4},{"s":"1C","x":-34,"y":-18.3},{"s":"1C","x":-32,"y":-21.2},{"s":"1C","x":-31,"y":-23.1},{"s":"1C","x":-29.5,"y":-21.2},{"s":"1C","x":-28,"y":-17.4},{"s":"1C","x":-25,"y":-13.6},{"s":"1C","x":-22,"y":-11.2},{"s":"1C","x":-18,"y":-9.3},{"s":"1C","x":-14,"y":-8.4},{"s":"1C","x":-10,"y":-7.9},{"s":"1C","x":-7,"y":-8.4},{"s":"1C","x":-4,"y":-9.8},{"s":"1C","x":-1,"y":-12.6},{"s":"1C","x":2,"y":-16.4},{"s":"1C","x":4,"y":-20.2},{"s":"1C","x":5.3,"y":-24},{"s":"1C","x":6.2,"y":-22},{"s":"1C","x":7,"y":-17.4},{"s":"1C","x":9,"y":-11.7},{"s":"1C","x":12,"y":-6.9},{"s":"1C","x":16,"y":-3.6},{"s":"1C","x":20,"y":-1.7},{"s":"1C","x":25,"y":-0.8},{"s":"1C","x":30,"y":-0.3},{"s":"1C","x":35,"y":0},{"s":"1C","x":40,"y":-0.3},{"s":"1C","x":45,"y":-1},{"s":"1C","x":50,"y":-2.7},{"s":"1C","x":55,"y":-4.6},{"s":"1C","x":60,"y":-6.9},{"s":"1C","x":65,"y":-9.8},{"s":"1C","x":70,"y":-13.1},
{"s":"1M","x":-70,"y":-19.3},{"s":"1M","x":-68,"y":-20.2},{"s":"1M","x":-66,"y":-19.8},{"s":"1M","x":-65,"y":-22.6},{"s":"1M","x":-64,"y":-23.6},{"s":"1M","x":-62,"y":-20.2},{"s":"1M","x":-60,"y":-16.4},{"s":"1M","x":-57,"y":-15.5},{"s":"1M","x":-55,"y":-14.1},{"s":"1M","x":-52,"y":-13.6},{"s":"1M","x":-50,"y":-13.5},{"s":"1M","x":-48,"y":-11.7},{"s":"1M","x":-46,"y":-10.7},{"s":"1M","x":-44,"y":-12.1},{"s":"1M","x":-43,"y":-13.6},{"s":"1M","x":-41,"y":-16.4},{"s":"1M","x":-40,"y":-17.4},{"s":"1M","x":-39,"y":-18.8},{"s":"1M","x":-37,"y":-17.4},{"s":"1M","x":-35,"y":-16},{"s":"1M","x":-34,"y":-17.4},{"s":"1M","x":-33,"y":-20.2},{"s":"1M","x":-32,"y":-26.9},{"s":"1M","x":-30.5,"y":-34.5},{"s":"1M","x":-30,"y":-26},{"s":"1M","x":-29,"y":-19.3},{"s":"1M","x":-27,"y":-15.5},{"s":"1M","x":-25,"y":-12.6},{"s":"1M","x":-22,"y":-11.7},{"s":"1M","x":-19,"y":-9.8},{"s":"1M","x":-15,"y":-9.3},{"s":"1M","x":-11,"y":-8.8},{"s":"1M","x":-8,"y":-9.8},{"s":"1M","x":-5,"y":-11.2},{"s":"1M","x":-3,"y":-13.1},{"s":"1M","x":-1,"y":-15.5},{"s":"1M","x":0,"y":-19.3},{"s":"1M","x":1,"y":-24.9},{"s":"1M","x":2,"y":-28.8},{"s":"1M","x":3,"y":-28.8},{"s":"1M","x":4,"y":-26.9},{"s":"1M","x":5,"y":-21.2},{"s":"1M","x":6.5,"y":-15.5},{"s":"1M","x":8,"y":-10.7},{"s":"1M","x":10,"y":-7.9},{"s":"1M","x":13,"y":-5},{"s":"1M","x":16,"y":-2.7},{"s":"1M","x":19,"y":-1.7},{"s":"1M","x":22,"y":-1.2},{"s":"1M","x":26,"y":-0.8},{"s":"1M","x":30,"y":-0.5},{"s":"1M","x":34,"y":-0.3},{"s":"1M","x":38,"y":-0.8},{"s":"1M","x":40,"y":-1.7},{"s":"1M","x":42,"y":-2.2},{"s":"1M","x":46,"y":-2.7},{"s":"1M","x":50,"y":-3.1},{"s":"1M","x":54,"y":-5.5},{"s":"1M","x":56,"y":-6.9},{"s":"1M","x":58,"y":-7.9},{"s":"1M","x":60,"y":-9},{"s":"1M","x":62,"y":-10.2},{"s":"1M","x":64,"y":-10.7},{"s":"1M","x":66,"y":-10.5},{"s":"1M","x":68,"y":-9.3},{"s":"1M","x":70,"y":-9.8},
{"s":"2C","x":-70,"y":-18.3},{"s":"2C","x":-66,"y":-16.9},{"s":"2C","x":-62,"y":-16},{"s":"2C","x":-58,"y":-15.5},{"s":"2C","x":-55,"y":-15.7},{"s":"2C","x":-52,"y":-16.4},{"s":"2C","x":-48,"y":-17.9},{"s":"2C","x":-45,"y":-19.8},{"s":"2C","x":-42,"y":-22.6},{"s":"2C","x":-40,"y":-24.5},{"s":"2C","x":-38.5,"y":-23.5},{"s":"2C","x":-37,"y":-21.2},{"s":"2C","x":-35,"y":-18.8},{"s":"2C","x":-32,"y":-16.4},{"s":"2C","x":-28,"y":-14.1},{"s":"2C","x":-24,"y":-11.7},{"s":"2C","x":-20,"y":-10.3},{"s":"2C","x":-16,"y":-9.1},{"s":"2C","x":-12,"y":-8.4},{"s":"2C","x":-8,"y":-8.4},{"s":"2C","x":-4,"y":-9.4},{"s":"2C","x":-1,"y":-11.2},{"s":"2C","x":2,"y":-14.1},{"s":"2C","x":4,"y":-17.4},{"s":"2C","x":5.5,"y":-21.2},{"s":"2C","x":6.5,"y":-25},{"s":"2C","x":8,"y":-19.3},{"s":"2C","x":10,"y":-13.6},{"s":"2C","x":13,"y":-9.8},{"s":"2C","x":17,"y":-6.9},{"s":"2C","x":22,"y":-5},{"s":"2C","x":27,"y":-3.6},{"s":"2C","x":32,"y":-2.7},{"s":"2C","x":38,"y":-1.4},{"s":"2C","x":44,"y":-1},{"s":"2C","x":50,"y":-1.2},{"s":"2C","x":55,"y":-2.2},{"s":"2C","x":60,"y":-3.6},{"s":"2C","x":65,"y":-5},{"s":"2C","x":70,"y":-6},
{"s":"2M","x":-70,"y":-16.4},{"s":"2M","x":-68,"y":-15},{"s":"2M","x":-66,"y":-14.4},{"s":"2M","x":-62,"y":-14.1},{"s":"2M","x":-58,"y":-13.8},{"s":"2M","x":-56,"y":-14.1},{"s":"2M","x":-53,"y":-15},{"s":"2M","x":-50,"y":-16.4},{"s":"2M","x":-48,"y":-15.5},{"s":"2M","x":-46,"y":-15.5},{"s":"2M","x":-44,"y":-16.4},{"s":"2M","x":-42,"y":-17.4},{"s":"2M","x":-40,"y":-21.2},{"s":"2M","x":-38.5,"y":-26.9},{"s":"2M","x":-37.5,"y":-39.7},{"s":"2M","x":-36.5,"y":-32},{"s":"2M","x":-35,"y":-24},{"s":"2M","x":-34,"y":-19.3},{"s":"2M","x":-32,"y":-19.8},{"s":"2M","x":-30,"y":-17.4},{"s":"2M","x":-28,"y":-15.5},{"s":"2M","x":-26,"y":-12.6},{"s":"2M","x":-23,"y":-11.7},{"s":"2M","x":-20,"y":-10.3},{"s":"2M","x":-16,"y":-8.8},{"s":"2M","x":-12,"y":-8.6},{"s":"2M","x":-8,"y":-9.8},{"s":"2M","x":-5,"y":-10.7},{"s":"2M","x":-3,"y":-13.1},{"s":"2M","x":-1,"y":-16.4},{"s":"2M","x":1,"y":-21.2},{"s":"2M","x":3,"y":-26},{"s":"2M","x":4,"y":-31.2},{"s":"2M","x":5,"y":-25},{"s":"2M","x":6,"y":-17.4},{"s":"2M","x":7,"y":-13.6},{"s":"2M","x":9,"y":-11.7},{"s":"2M","x":11,"y":-7.9},{"s":"2M","x":14,"y":-6},{"s":"2M","x":18,"y":-5.5},{"s":"2M","x":22,"y":-4.1},{"s":"2M","x":26,"y":-3.1},{"s":"2M","x":30,"y":-2.2},{"s":"2M","x":34,"y":-1.7},{"s":"2M","x":38,"y":-0.8},{"s":"2M","x":42,"y":-0.1},{"s":"2M","x":46,"y":-0.3},{"s":"2M","x":50,"y":-1},{"s":"2M","x":54,"y":-2.2},{"s":"2M","x":58,"y":-3.6},{"s":"2M","x":62,"y":-4.6},{"s":"2M","x":64,"y":-6},{"s":"2M","x":66,"y":-6.9},{"s":"2M","x":68,"y":-7.4},{"s":"2M","x":70,"y":-6.9},
{"s":"3C","x":-70,"y":-6.9},{"s":"3C","x":-66,"y":-7.2},{"s":"3C","x":-62,"y":-7.7},{"s":"3C","x":-58,"y":-8.6},{"s":"3C","x":-54,"y":-10},{"s":"3C","x":-50,"y":-12},{"s":"3C","x":-46,"y":-14.5},{"s":"3C","x":-44,"y":-16.5},{"s":"3C","x":-42,"y":-20},{"s":"3C","x":-40.5,"y":-25},{"s":"3C","x":-39.5,"y":-31},{"s":"3C","x":-38.8,"y":-34},{"s":"3C","x":-38,"y":-30.7},{"s":"3C","x":-37,"y":-26.9},{"s":"3C","x":-35,"y":-24.5},{"s":"3C","x":-33,"y":-23.9},{"s":"3C","x":-31,"y":-23.6},{"s":"3C","x":-29,"y":-22.6},{"s":"3C","x":-27,"y":-20.7},{"s":"3C","x":-24,"y":-17.4},{"s":"3C","x":-20,"y":-14.1},{"s":"3C","x":-16,"y":-10.7},{"s":"3C","x":-12,"y":-7.9},{"s":"3C","x":-8,"y":-5.5},{"s":"3C","x":-4,"y":-3.6},{"s":"3C","x":0,"y":-2},{"s":"3C","x":4,"y":-0.9},{"s":"3C","x":8,"y":-0.3},{"s":"3C","x":12,"y":-0.3},{"s":"3C","x":16,"y":-1},{"s":"3C","x":20,"y":-2.2},{"s":"3C","x":24,"y":-3.6},{"s":"3C","x":28,"y":-5.5},{"s":"3C","x":32,"y":-7.9},{"s":"3C","x":35,"y":-10.3},{"s":"3C","x":38,"y":-13.6},{"s":"3C","x":40,"y":-16.9},{"s":"3C","x":41.5,"y":-19.8},{"s":"3C","x":42.5,"y":-20.2},{"s":"3C","x":44,"y":-17.4},{"s":"3C","x":46,"y":-14.5},{"s":"3C","x":49,"y":-11.7},{"s":"3C","x":52,"y":-9.8},{"s":"3C","x":56,"y":-7.9},{"s":"3C","x":60,"y":-6.9},{"s":"3C","x":64,"y":-6.5},{"s":"3C","x":68,"y":-6.3},{"s":"3C","x":70,"y":-6.3},
{"s":"3M","x":-70,"y":-6.3},{"s":"3M","x":-69,"y":-7.9},{"s":"3M","x":-68,"y":-10.3},{"s":"3M","x":-66,"y":-8.9},{"s":"3M","x":-63,"y":-6.9},{"s":"3M","x":-60,"y":-6.9},{"s":"3M","x":-58,"y":-7.9},{"s":"3M","x":-56,"y":-8.4},{"s":"3M","x":-53,"y":-11.7},{"s":"3M","x":-51,"y":-13.6},{"s":"3M","x":-49,"y":-13.6},{"s":"3M","x":-47,"y":-15.5},{"s":"3M","x":-45,"y":-16.4},{"s":"3M","x":-43,"y":-17.4},{"s":"3M","x":-42,"y":-21.2},{"s":"3M","x":-41,"y":-26},{"s":"3M","x":-40.5,"y":-28.8},{"s":"3M","x":-40,"y":-23.4},{"s":"3M","x":-39,"y":-24.2},{"s":"3M","x":-38,"y":-26.9},{"s":"3M","x":-37,"y":-29.8},{"s":"3M","x":-36,"y":-26},{"s":"3M","x":-34,"y":-23.1},{"s":"3M","x":-32,"y":-22.2},{"s":"3M","x":-30,"y":-24},{"s":"3M","x":-28,"y":-21.2},{"s":"3M","x":-26,"y":-17.4},{"s":"3M","x":-24,"y":-12.6},{"s":"3M","x":-21,"y":-11.7},{"s":"3M","x":-18,"y":-9.8},{"s":"3M","x":-15,"y":-8.8},{"s":"3M","x":-12,"y":-6.9},{"s":"3M","x":-8,"y":-5},{"s":"3M","x":-4,"y":-3.1},{"s":"3M","x":-1,"y":-1.2},{"s":"3M","x":2,"y":-0.5},{"s":"3M","x":6,"y":-0.3},{"s":"3M","x":9,"y":0},{"s":"3M","x":12,"y":-0.5},{"s":"3M","x":15,"y":-1.2},{"s":"3M","x":18,"y":-2.7},{"s":"3M","x":21,"y":-4.1},{"s":"3M","x":24,"y":-5.5},{"s":"3M","x":27,"y":-6.9},{"s":"3M","x":30,"y":-8.3},{"s":"3M","x":33,"y":-10.3},{"s":"3M","x":35,"y":-12.2},{"s":"3M","x":37,"y":-15},{"s":"3M","x":38.5,"y":-17.9},{"s":"3M","x":39.5,"y":-15.5},{"s":"3M","x":41,"y":-12.6},{"s":"3M","x":43,"y":-9.8},{"s":"3M","x":46,"y":-7.9},{"s":"3M","x":49,"y":-6.9},{"s":"3M","x":52,"y":-6},{"s":"3M","x":55,"y":-5.5},{"s":"3M","x":58,"y":-5.5},{"s":"3M","x":62,"y":-6},{"s":"3M","x":66,"y":-6},{"s":"3M","x":70,"y":-6},
{"s":"4C","x":-70,"y":-7.1},{"s":"4C","x":-66,"y":-7.2},{"s":"4C","x":-62,"y":-7.7},{"s":"4C","x":-58,"y":-8.6},{"s":"4C","x":-54,"y":-10},{"s":"4C","x":-50,"y":-12.2},{"s":"4C","x":-46,"y":-15},{"s":"4C","x":-43,"y":-18.3},{"s":"4C","x":-40,"y":-22.6},{"s":"4C","x":-38,"y":-26.9},{"s":"4C","x":-36.5,"y":-32},{"s":"4C","x":-35.5,"y":-35},{"s":"4C","x":-34.5,"y":-30.7},{"s":"4C","x":-33,"y":-26},{"s":"4C","x":-31,"y":-23.1},{"s":"4C","x":-28,"y":-19.3},{"s":"4C","x":-25,"y":-16.4},{"s":"4C","x":-21,"y":-13.6},{"s":"4C","x":-17,"y":-10.7},{"s":"4C","x":-13,"y":-7.9},{"s":"4C","x":-10,"y":-6},{"s":"4C","x":-6,"y":-3.6},{"s":"4C","x":-2,"y":-2.2},{"s":"4C","x":2,"y":-1},{"s":"4C","x":6,"y":-0.5},{"s":"4C","x":10,"y":-0.3},{"s":"4C","x":14,"y":-0.8},{"s":"4C","x":18,"y":-1.7},{"s":"4C","x":22,"y":-3.1},{"s":"4C","x":26,"y":-5},{"s":"4C","x":30,"y":-7.4},{"s":"4C","x":33,"y":-9.8},{"s":"4C","x":35,"y":-12.2},{"s":"4C","x":37,"y":-15.5},{"s":"4C","x":38.5,"y":-19.3},{"s":"4C","x":39.5,"y":-21.7},{"s":"4C","x":40.5,"y":-19.8},{"s":"4C","x":42,"y":-15.5},{"s":"4C","x":45,"y":-11.7},{"s":"4C","x":49,"y":-8.8},{"s":"4C","x":53,"y":-7.4},{"s":"4C","x":57,"y":-6.5},{"s":"4C","x":61,"y":-6},{"s":"4C","x":65,"y":-5.8},{"s":"4C","x":70,"y":-5.8},
{"s":"4M","x":-70,"y":-6},{"s":"4M","x":-68,"y":-6.9},{"s":"4M","x":-66,"y":-6},{"s":"4M","x":-62,"y":-6.9},{"s":"4M","x":-60,"y":-7.7},{"s":"4M","x":-57,"y":-6.9},{"s":"4M","x":-55,"y":-7.9},{"s":"4M","x":-53,"y":-10.3},{"s":"4M","x":-51,"y":-11.7},{"s":"4M","x":-49,"y":-12.6},{"s":"4M","x":-47,"y":-13.6},{"s":"4M","x":-45,"y":-14.4},{"s":"4M","x":-43,"y":-14.5},{"s":"4M","x":-41,"y":-17.4},{"s":"4M","x":-40,"y":-19.3},{"s":"4M","x":-39,"y":-21.2},{"s":"4M","x":-38,"y":-24},{"s":"4M","x":-37,"y":-26.9},{"s":"4M","x":-36,"y":-27.9},{"s":"4M","x":-35,"y":-25},{"s":"4M","x":-34,"y":-23.1},{"s":"4M","x":-33,"y":-20.7},{"s":"4M","x":-32,"y":-19.8},{"s":"4M","x":-31,"y":-21.2},{"s":"4M","x":-30,"y":-23.1},{"s":"4M","x":-29,"y":-24},{"s":"4M","x":-28,"y":-26.9},{"s":"4M","x":-27,"y":-23.1},{"s":"4M","x":-26,"y":-19.3},{"s":"4M","x":-24,"y":-16.4},{"s":"4M","x":-22,"y":-15},{"s":"4M","x":-19,"y":-12.6},{"s":"4M","x":-16,"y":-9.8},{"s":"4M","x":-12,"y":-6.5},{"s":"4M","x":-9,"y":-5},{"s":"4M","x":-6,"y":-3.6},{"s":"4M","x":-3,"y":-2.2},{"s":"4M","x":0,"y":-1.2},{"s":"4M","x":3,"y":-0.8},{"s":"4M","x":6,"y":-0.5},{"s":"4M","x":10,"y":-0.3},{"s":"4M","x":14,"y":-0.8},{"s":"4M","x":18,"y":-2.2},{"s":"4M","x":21,"y":-4.1},{"s":"4M","x":24,"y":-5},{"s":"4M","x":27,"y":-6.9},{"s":"4M","x":30,"y":-9.8},{"s":"4M","x":33,"y":-10.7},{"s":"4M","x":35,"y":-12.6},{"s":"4M","x":36.5,"y":-16.4},{"s":"4M","x":37.5,"y":-19.3},{"s":"4M","x":38.5,"y":-19.8},{"s":"4M","x":39.5,"y":-17.4},{"s":"4M","x":41,"y":-14.5},{"s":"4M","x":43,"y":-11.7},{"s":"4M","x":46,"y":-9.3},{"s":"4M","x":50,"y":-7.9},{"s":"4M","x":53,"y":-6.9},{"s":"4M","x":57,"y":-5},{"s":"4M","x":60,"y":-5.5},{"s":"4M","x":63,"y":-6.5},{"s":"4M","x":65,"y":-6},{"s":"4M","x":67,"y":-5.5},{"s":"4M","x":70,"y":-5.5}
],
"b2": [
{"s":"1C","x":-70,"y":-38.2},{"s":"1C","x":-67,"y":-32.4},{"s":"1C","x":-64,"y":-27},{"s":"1C","x":-61,"y":-22.1},{"s":"1C","x":-58,"y":-18.1},{"s":"1C","x":-55,"y":-14.7},{"s":"1C","x":-52,"y":-11.8},{"s":"1C","x":-48,"y":-8.8},{"s":"1C","x":-44,"y":-6.6},{"s":"1C","x":-40,"y":-4.6},{"s":"1C","x":-36,"y":-3.2},{"s":"1C","x":-32,"y":-2.2},{"s":"1C","x":-28,"y":-1.3},{"s":"1C","x":-24,"y":-0.6},{"s":"1C","x":-20,"y":-0.2},{"s":"1C","x":-16,"y":0},{"s":"1C","x":-12,"y":0},{"s":"1C","x":-8,"y":0},{"s":"1C","x":-4,"y":0},{"s":"1C","x":0,"y":-0.2},{"s":"1C","x":4,"y":-0.5},{"s":"1C","x":8,"y":-1.1},{"s":"1C","x":12,"y":-1.9},{"s":"1C","x":16,"y":-2.9},{"s":"1C","x":20,"y":-4.2},{"s":"1C","x":24,"y":-5.9},{"s":"1C","x":28,"y":-7.8},{"s":"1C","x":32,"y":-10.3},{"s":"1C","x":36,"y":-13.2},{"s":"1C","x":40,"y":-17.2},{"s":"1C","x":42,"y":-19.6},{"s":"1C","x":44,"y":-23},{"s":"1C","x":45.5,"y":-27.9},{"s":"1C","x":46.5,"y":-33.8},{"s":"1C","x":47.3,"y":-40},{"s":"1C","x":48.2,"y":-33.8},{"s":"1C","x":49.5,"y":-28.9},{"s":"1C","x":51,"y":-26.5},{"s":"1C","x":53,"y":-24.5},{"s":"1C","x":56,"y":-23.5},{"s":"1C","x":58,"y":-23.5},{"s":"1C","x":61,"y":-24.5},{"s":"1C","x":64,"y":-26},{"s":"1C","x":67,"y":-27.9},{"s":"1C","x":70,"y":-30.9},
{"s":"1M","x":-69.5,"y":-40},{"s":"1M","x":-68.5,"y":-36.8},{"s":"1M","x":-67,"y":-34.3},{"s":"1M","x":-66,"y":-34.8},{"s":"1M","x":-65,"y":-31.9},{"s":"1M","x":-63,"y":-27},{"s":"1M","x":-61,"y":-23},{"s":"1M","x":-59,"y":-24},{"s":"1M","x":-57,"y":-21.1},{"s":"1M","x":-55,"y":-19.1},{"s":"1M","x":-53,"y":-18.1},{"s":"1M","x":-51,"y":-17.6},{"s":"1M","x":-49,"y":-15.2},{"s":"1M","x":-47,"y":-14.2},{"s":"1M","x":-45,"y":-13.2},{"s":"1M","x":-42,"y":-11.3},{"s":"1M","x":-39,"y":-8.3},{"s":"1M","x":-36,"y":-6.4},{"s":"1M","x":-33,"y":-4.6},{"s":"1M","x":-30,"y":-3.9},{"s":"1M","x":-27,"y":-2.5},{"s":"1M","x":-24,"y":-1.5},{"s":"1M","x":-20,"y":-0.7},{"s":"1M","x":-16,"y":-0.3},{"s":"1M","x":-12,"y":0},{"s":"1M","x":-8,"y":0.3},{"s":"1M","x":-4,"y":0},{"s":"1M","x":0,"y":-0.1},{"s":"1M","x":4,"y":-0.5},{"s":"1M","x":8,"y":-1.3},{"s":"1M","x":12,"y":-2},{"s":"1M","x":16,"y":-3.2},{"s":"1M","x":20,"y":-4.4},{"s":"1M","x":24,"y":-6.4},{"s":"1M","x":27,"y":-7.4},{"s":"1M","x":29,"y":-9.3},{"s":"1M","x":31,"y":-11.3},{"s":"1M","x":33,"y":-14.2},{"s":"1M","x":35,"y":-18.1},{"s":"1M","x":37,"y":-19.1},{"s":"1M","x":39,"y":-20.1},{"s":"1M","x":41,"y":-21.1},{"s":"1M","x":42.5,"y":-25},{"s":"1M","x":44,"y":-28.9},{"s":"1M","x":45,"y":-25},{"s":"1M","x":46,"y":-24},{"s":"1M","x":47.5,"y":-25},{"s":"1M","x":49,"y":-24},{"s":"1M","x":50,"y":-26},{"s":"1M","x":52,"y":-26},{"s":"1M","x":53,"y":-23},{"s":"1M","x":55,"y":-21.6},{"s":"1M","x":57,"y":-22.1},{"s":"1M","x":59,"y":-21.6},{"s":"1M","x":60,"y":-22.1},{"s":"1M","x":61,"y":-28.9},{"s":"1M","x":62,"y":-36.8},{"s":"1M","x":62.5,"y":-38.7},{"s":"1M","x":63.5,"y":-27},{"s":"1M","x":64.5,"y":-22},{"s":"1M","x":66,"y":-23},{"s":"1M","x":68,"y":-24},{"s":"1M","x":70,"y":-27.9},
{"s":"2C","x":-70,"y":-19.1},{"s":"2C","x":-67,"y":-14.2},{"s":"2C","x":-64,"y":-10.3},{"s":"2C","x":-60,"y":-7.4},{"s":"2C","x":-56,"y":-5.4},{"s":"2C","x":-52,"y":-4},{"s":"2C","x":-48,"y":-3.2},{"s":"2C","x":-44,"y":-2.8},{"s":"2C","x":-40,"y":-2.8},{"s":"2C","x":-36,"y":-3.2},{"s":"2C","x":-32,"y":-4},{"s":"2C","x":-28,"y":-5.2},{"s":"2C","x":-24,"y":-6.7},{"s":"2C","x":-20,"y":-8.8},{"s":"2C","x":-16,"y":-11.8},{"s":"2C","x":-13,"y":-15.2},{"s":"2C","x":-11,"y":-18.6},{"s":"2C","x":-9,"y":-23},{"s":"2C","x":-7.5,"y":-27.5},{"s":"2C","x":-6.5,"y":-29.4},{"s":"2C","x":-5.5,"y":-26},{"s":"2C","x":-4,"y":-21.1},{"s":"2C","x":-2,"y":-16.2},{"s":"2C","x":1,"y":-11.8},{"s":"2C","x":4,"y":-8.8},{"s":"2C","x":8,"y":-6.4},{"s":"2C","x":12,"y":-4.6},{"s":"2C","x":16,"y":-3.2},{"s":"2C","x":20,"y":-2.3},{"s":"2C","x":24,"y":-1.5},{"s":"2C","x":28,"y":-1.1},{"s":"2C","x":32,"y":-0.9},{"s":"2C","x":36,"y":-1},{"s":"2C","x":40,"y":-1.5},{"s":"2C","x":44,"y":-2.5},{"s":"2C","x":48,"y":-3.6},{"s":"2C","x":52,"y":-5.2},{"s":"2C","x":56,"y":-7.4},{"s":"2C","x":60,"y":-9.8},{"s":"2C","x":63,"y":-12.7},{"s":"2C","x":66,"y":-15.7},{"s":"2C","x":68,"y":-17.6},{"s":"2C","x":70,"y":-20.1},
{"s":"2M","x":-70,"y":-18},{"s":"2M","x":-69,"y":-21},{"s":"2M","x":-68,"y":-20},{"s":"2M","x":-66,"y":-16},{"s":"2M","x":-64.5,"y":-12},{"s":"2M","x":-62.5,"y":-10},{"s":"2M","x":-60,"y":-9.5},{"s":"2M","x":-57,"y":-8},{"s":"2M","x":-54,"y":-7},{"s":"2M","x":-51,"y":-5.5},{"s":"2M","x":-48,"y":-4.5},{"s":"2M","x":-45,"y":-4},{"s":"2M","x":-42,"y":-3.5},{"s":"2M","x":-39,"y":-4},{"s":"2M","x":-37,"y":-5.5},{"s":"2M","x":-34,"y":-4.5},{"s":"2M","x":-31,"y":-3.8},{"s":"2M","x":-28,"y":-4.5},{"s":"2M","x":-25,"y":-6},{"s":"2M","x":-22,"y":-7.5},{"s":"2M","x":-19,"y":-8.5},{"s":"2M","x":-17,"y":-9.5},{"s":"2M","x":-15,"y":-10},{"s":"2M","x":-13,"y":-13},{"s":"2M","x":-11,"y":-16},{"s":"2M","x":-9,"y":-20},{"s":"2M","x":-7.5,"y":-24},{"s":"2M","x":-6,"y":-27},{"s":"2M","x":-5.2,"y":-33},{"s":"2M","x":-4.5,"y":-26},{"s":"2M","x":-3.5,"y":-21},{"s":"2M","x":-2,"y":-18},{"s":"2M","x":-1,"y":-14},{"s":"2M","x":1,"y":-11},{"s":"2M","x":4,"y":-8.5},{"s":"2M","x":8,"y":-6.5},{"s":"2M","x":12,"y":-4.5},{"s":"2M","x":16,"y":-3.5},{"s":"2M","x":20,"y":-2.5},{"s":"2M","x":24,"y":-1.5},{"s":"2M","x":28,"y":-0.8},{"s":"2M","x":31,"y":-0.5},{"s":"2M","x":34,"y":-0.3},{"s":"2M","x":36,"y":-0.7},{"s":"2M","x":38,"y":-1},{"s":"2M","x":42,"y":-2},{"s":"2M","x":46,"y":-3},{"s":"2M","x":50,"y":-4.5},{"s":"2M","x":54,"y":-6.5},{"s":"2M","x":58,"y":-8},{"s":"2M","x":60,"y":-9.5},{"s":"2M","x":62,"y":-10.5},{"s":"2M","x":64,"y":-12},{"s":"2M","x":66,"y":-15},{"s":"2M","x":68,"y":-18},{"s":"2M","x":69,"y":-20},{"s":"2M","x":70,"y":-20.5},
{"s":"3C","x":-70,"y":-13.7},{"s":"3C","x":-66,"y":-9.8},{"s":"3C","x":-62,"y":-7.4},{"s":"3C","x":-58,"y":-5.6},{"s":"3C","x":-54,"y":-4.2},{"s":"3C","x":-50,"y":-3.2},{"s":"3C","x":-46,"y":-2.5},{"s":"3C","x":-42,"y":-1.8},{"s":"3C","x":-38,"y":-1.3},{"s":"3C","x":-34,"y":-0.9},{"s":"3C","x":-30,"y":-0.6},{"s":"3C","x":-26,"y":-0.5},{"s":"3C","x":-22,"y":-0.5},{"s":"3C","x":-18,"y":-0.7},{"s":"3C","x":-14,"y":-1.1},{"s":"3C","x":-10,"y":-1.8},{"s":"3C","x":-6,"y":-2.6},{"s":"3C","x":-2,"y":-3.9},{"s":"3C","x":2,"y":-5.6},{"s":"3C","x":6,"y":-7.8},{"s":"3C","x":9,"y":-10.3},{"s":"3C","x":11.5,"y":-13.7},{"s":"3C","x":13.5,"y":-18.1},{"s":"3C","x":15,"y":-23},{"s":"3C","x":16,"y":-27.9},{"s":"3C","x":16.5,"y":-28.9},{"s":"3C","x":17.5,"y":-25.5},{"s":"3C","x":19,"y":-21.1},{"s":"3C","x":21,"y":-17.2},{"s":"3C","x":24,"y":-13.2},{"s":"3C","x":28,"y":-10.3},{"s":"3C","x":32,"y":-8.8},{"s":"3C","x":36,"y":-7.8},{"s":"3C","x":40,"y":-7.4},{"s":"3C","x":44,"y":-7.2},{"s":"3C","x":48,"y":-7.1},{"s":"3C","x":52,"y":-7.2},{"s":"3C","x":56,"y":-7.4},{"s":"3C","x":60,"y":-7.8},{"s":"3C","x":64,"y":-8.8},{"s":"3C","x":67,"y":-9.8},{"s":"3C","x":70,"y":-11.8},
{"s":"3M","x":-70,"y":-20.6},{"s":"3M","x":-68,"y":-18.1},{"s":"3M","x":-66.8,"y":-15.2},{"s":"3M","x":-63.5,"y":-11.3},{"s":"3M","x":-60.3,"y":-8.3},{"s":"3M","x":-57,"y":-6.9},{"s":"3M","x":-53,"y":-4.8},{"s":"3M","x":-49,"y":-3.5},{"s":"3M","x":-45,"y":-2.6},{"s":"3M","x":-41,"y":-1.8},{"s":"3M","x":-37,"y":-1.2},{"s":"3M","x":-33,"y":-0.8},{"s":"3M","x":-29,"y":-0.5},{"s":"3M","x":-24,"y":0},{"s":"3M","x":-20,"y":-0.4},{"s":"3M","x":-16,"y":-0.8},{"s":"3M","x":-13,"y":-1.2},{"s":"3M","x":-10,"y":-1.5},{"s":"3M","x":-6,"y":-2.5},{"s":"3M","x":-2,"y":-4},{"s":"3M","x":2,"y":-6},{"s":"3M","x":5,"y":-8},{"s":"3M","x":8,"y":-10.5},{"s":"3M","x":10,"y":-13},{"s":"3M","x":12,"y":-17},{"s":"3M","x":13.5,"y":-21},{"s":"3M","x":14.5,"y":-26},{"s":"3M","x":15.3,"y":-28},{"s":"3M","x":16.5,"y":-24},{"s":"3M","x":18,"y":-20},{"s":"3M","x":20,"y":-17},{"s":"3M","x":23,"y":-13.5},{"s":"3M","x":26,"y":-10.5},{"s":"3M","x":30,"y":-8},{"s":"3M","x":34,"y":-7},{"s":"3M","x":38,"y":-6.5},{"s":"3M","x":42,"y":-6},{"s":"3M","x":46,"y":-5.5},{"s":"3M","x":50,"y":-6},{"s":"3M","x":54,"y":-6.5},{"s":"3M","x":58,"y":-7.5},{"s":"3M","x":62,"y":-8.5},{"s":"3M","x":65,"y":-9.5},{"s":"3M","x":67,"y":-11},{"s":"3M","x":69,"y":-13},{"s":"3M","x":70,"y":-14},
{"s":"4C","x":-70,"y":-15},{"s":"4C","x":-67,"y":-13.7},{"s":"4C","x":-64,"y":-12.7},{"s":"4C","x":-61,"y":-12},{"s":"4C","x":-58,"y":-11.8},{"s":"4C","x":-55,"y":-11.9},{"s":"4C","x":-52,"y":-12.3},{"s":"4C","x":-49,"y":-12.9},{"s":"4C","x":-46,"y":-13.7},{"s":"4C","x":-43,"y":-15},{"s":"4C","x":-40,"y":-16.7},{"s":"4C","x":-37,"y":-19.1},{"s":"4C","x":-35,"y":-21.6},{"s":"4C","x":-33,"y":-25},{"s":"4C","x":-32,"y":-28.9},{"s":"4C","x":-31.2,"y":-33.8},{"s":"4C","x":-30.5,"y":-38.7},{"s":"4C","x":-29.8,"y":-33},{"s":"4C","x":-29,"y":-27},{"s":"4C","x":-28,"y":-22.5},{"s":"4C","x":-26,"y":-17.2},{"s":"4C","x":-23,"y":-12.3},{"s":"4C","x":-20,"y":-9.3},{"s":"4C","x":-16,"y":-6.6},{"s":"4C","x":-12,"y":-4.6},{"s":"4C","x":-8,"y":-3},{"s":"4C","x":-4,"y":-1.9},{"s":"4C","x":0,"y":-1.1},{"s":"4C","x":4,"y":-0.5},{"s":"4C","x":8,"y":-0.1},{"s":"4C","x":12,"y":0},{"s":"4C","x":16,"y":-0.1},{"s":"4C","x":20,"y":-0.3},{"s":"4C","x":24,"y":-0.8},{"s":"4C","x":28,"y":-1.5},{"s":"4C","x":32,"y":-2.5},{"s":"4C","x":36,"y":-3.6},{"s":"4C","x":40,"y":-4.9},{"s":"4C","x":44,"y":-6.6},{"s":"4C","x":48,"y":-8.3},{"s":"4C","x":52,"y":-10.3},{"s":"4C","x":56,"y":-12.3},{"s":"4C","x":60,"y":-14.2},{"s":"4C","x":64,"y":-16.2},{"s":"4C","x":67,"y":-17.6},{"s":"4C","x":70,"y":-19.1},
{"s":"4M","x":-70,"y":-26},{"s":"4M","x":-69,"y":-24},{"s":"4M","x":-68,"y":-21.1},{"s":"4M","x":-66,"y":-22.5},{"s":"4M","x":-65,"y":-19.1},{"s":"4M","x":-63,"y":-15.7},{"s":"4M","x":-61,"y":-15},{"s":"4M","x":-59,"y":-15.7},{"s":"4M","x":-57,"y":-15.7},{"s":"4M","x":-55,"y":-16.4},{"s":"4M","x":-53,"y":-16.7},{"s":"4M","x":-51,"y":-17.2},{"s":"4M","x":-49,"y":-17.2},{"s":"4M","x":-47,"y":-18.3},{"s":"4M","x":-45,"y":-19.1},{"s":"4M","x":-43,"y":-19.1},{"s":"4M","x":-41,"y":-18.9},{"s":"4M","x":-39,"y":-20.1},{"s":"4M","x":-37,"y":-21.6},{"s":"4M","x":-36,"y":-23},{"s":"4M","x":-35,"y":-26},{"s":"4M","x":-34,"y":-29.9},{"s":"4M","x":-33.5,"y":-32.4},{"s":"4M","x":-33,"y":-31.4},{"s":"4M","x":-32,"y":-27},{"s":"4M","x":-31,"y":-21.1},{"s":"4M","x":-30,"y":-19.6},{"s":"4M","x":-28,"y":-19.1},{"s":"4M","x":-26,"y":-18.1},{"s":"4M","x":-24,"y":-14.2},{"s":"4M","x":-22,"y":-11.3},{"s":"4M","x":-19,"y":-9.3},{"s":"4M","x":-17,"y":-8.8},{"s":"4M","x":-15,"y":-8.3},{"s":"4M","x":-13,"y":-7.4},{"s":"4M","x":-10,"y":-5.9},{"s":"4M","x":-6,"y":-3.9},{"s":"4M","x":-2,"y":-2.6},{"s":"4M","x":2,"y":-1.5},{"s":"4M","x":6,"y":-0.7},{"s":"4M","x":10,"y":-0.3},{"s":"4M","x":14,"y":-0.2},{"s":"4M","x":18,"y":-0.3},{"s":"4M","x":22,"y":-0.5},{"s":"4M","x":26,"y":-1.1},{"s":"4M","x":30,"y":-2},{"s":"4M","x":34,"y":-2.9},{"s":"4M","x":38,"y":-4.2},{"s":"4M","x":42,"y":-5.6},{"s":"4M","x":45,"y":-7.4},{"s":"4M","x":48,"y":-9.3},{"s":"4M","x":50,"y":-10.3},{"s":"4M","x":52,"y":-10.1},{"s":"4M","x":54,"y":-11.8},{"s":"4M","x":56,"y":-12.7},{"s":"4M","x":58,"y":-14.2},{"s":"4M","x":60,"y":-15},{"s":"4M","x":62,"y":-16.2},{"s":"4M","x":64,"y":-17.2},{"s":"4M","x":65.5,"y":-19.1},{"s":"4M","x":66.5,"y":-20.3},{"s":"4M","x":67.5,"y":-19.1},{"s":"4M","x":68.5,"y":-22.5},{"s":"4M","x":69.5,"y":-25},{"s":"4M","x":70,"y":-26}
]
}
}
